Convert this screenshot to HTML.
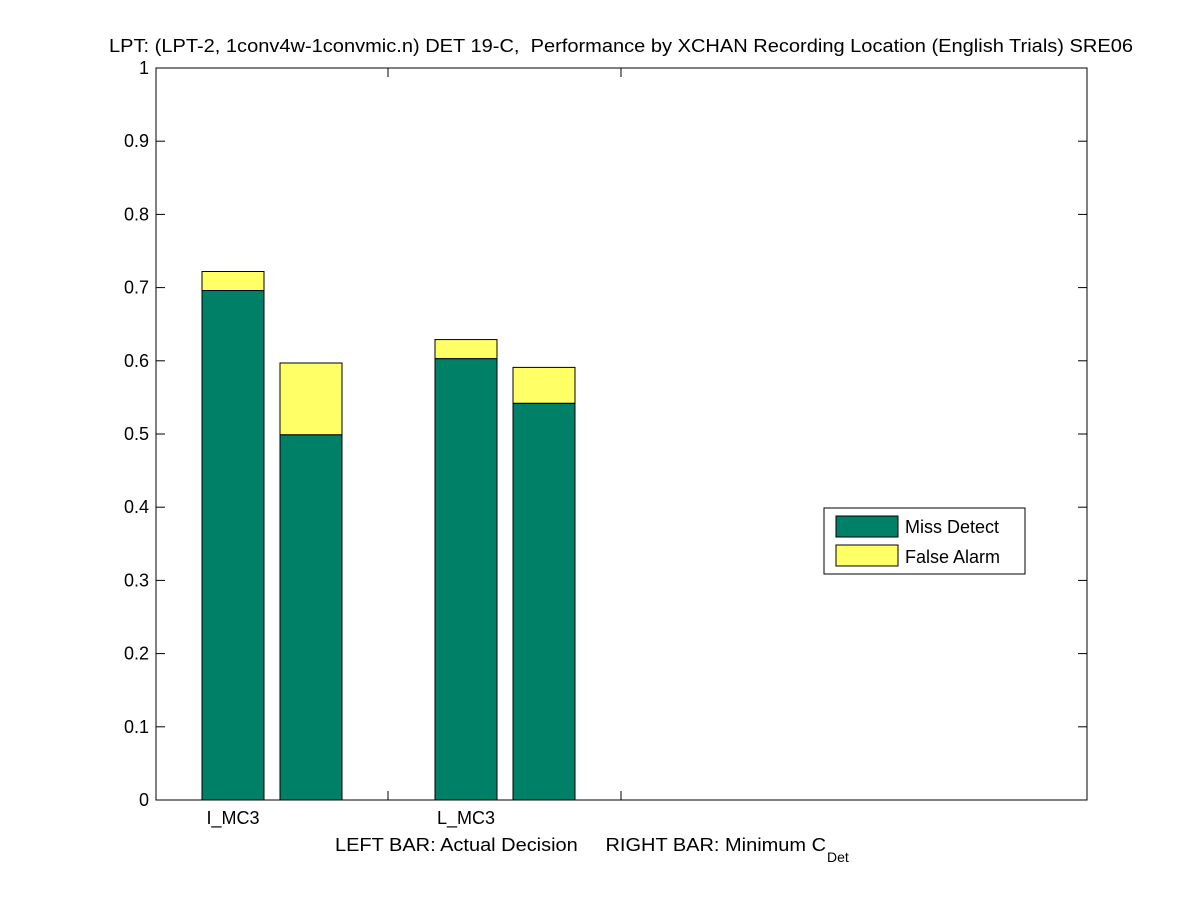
<!DOCTYPE html>
<html><head><meta charset="utf-8"><style>
body{margin:0;background:#fff;width:1201px;height:900px;overflow:hidden}
svg text{font-family:"Liberation Sans",Arial,sans-serif;font-size:18px;fill:#000;white-space:pre}
</style></head><body>
<svg id="chart" width="1201" height="900">
<text x="109" y="52" textLength="1024" lengthAdjust="spacingAndGlyphs">LPT: (LPT-2, 1conv4w-1convmic.n) DET 19-C,  Performance by XCHAN Recording Location (English Trials) SRE06</text>
<rect x="156" y="68" width="931" height="732" fill="none" stroke="#000" stroke-width="1"/>
<g id="yaxis"></g><g id="bars"></g><g id="xaxis"></g>
<text x="335" y="851" textLength="491" lengthAdjust="spacingAndGlyphs">LEFT BAR: Actual Decision     RIGHT BAR: Minimum C</text>
<text x="827" y="862" font-size="14" style="font-size:14px">Det</text>
<g>
<rect x="824" y="508" width="201" height="66" fill="#fff" stroke="#000"/>
<rect x="836" y="516" width="62" height="21" fill="#008066" stroke="#000"/>
<text x="905" y="533">Miss Detect</text>
<rect x="836" y="545" width="62" height="21" fill="#ffff66" stroke="#000"/>
<text x="905" y="563">False Alarm</text>
</g>
</svg>
<script>
const categories=["I_MC3","L_MC3"];
const missActual=[0.696,0.603];
const totalActual=[0.722,0.629];
const missMin=[0.499,0.542];
const totalMin=[0.597,0.591];
const yTicks=[0,0.1,0.2,0.3,0.4,0.5,0.6,0.7,0.8,0.9,1];
const NS="http://www.w3.org/2000/svg";
const y=v=>800-v*732;
const groupX=i=>202+i*233;
function mk(tag,attrs,parent){const e=document.createElementNS(NS,tag);for(const k in attrs)e.setAttribute(k,attrs[k]);parent.appendChild(e);return e;}
const ya=document.getElementById('yaxis'),ba=document.getElementById('bars'),xa=document.getElementById('xaxis');
yTicks.forEach(t=>{
 const l1=mk('line',{x1:156,x2:165,y1:y(t),y2:y(t),stroke:'#000'},ya);
 
 
 mk('line',{x1:1078,x2:1087,y1:y(t),y2:y(t),stroke:'#000'},ya);
 const tx=mk('text',{x:149,y:y(t)+6,'text-anchor':'end'},ya);
 tx.textContent=String(t);
 
 
});
function bar(x,miss,total){
 const r1=mk('rect',{x:x,y:y(miss),width:62,height:y(0)-y(miss),fill:'#008066',stroke:'#000'},ba);
 
 
 const r2=mk('rect',{x:x,y:y(total),width:62,height:y(miss)-y(total),fill:'#ffff66',stroke:'#000'},ba);
 
 
}
categories.forEach((c,i)=>{
 const gx=groupX(i);
 bar(gx,missActual[i],totalActual[i]);
 bar(gx+78,missMin[i],totalMin[i]);
 const t=mk('text',{x:gx+31,y:824,'text-anchor':'middle'},xa);
 t.textContent=c;
 
 
 const tk=gx+186;
 mk('line',{x1:tk,x2:tk,y1:791,y2:800,stroke:'#000'},xa);
 mk('line',{x1:tk,x2:tk,y1:68,y2:77,stroke:'#000'},xa);
});
</script>
</body></html>
